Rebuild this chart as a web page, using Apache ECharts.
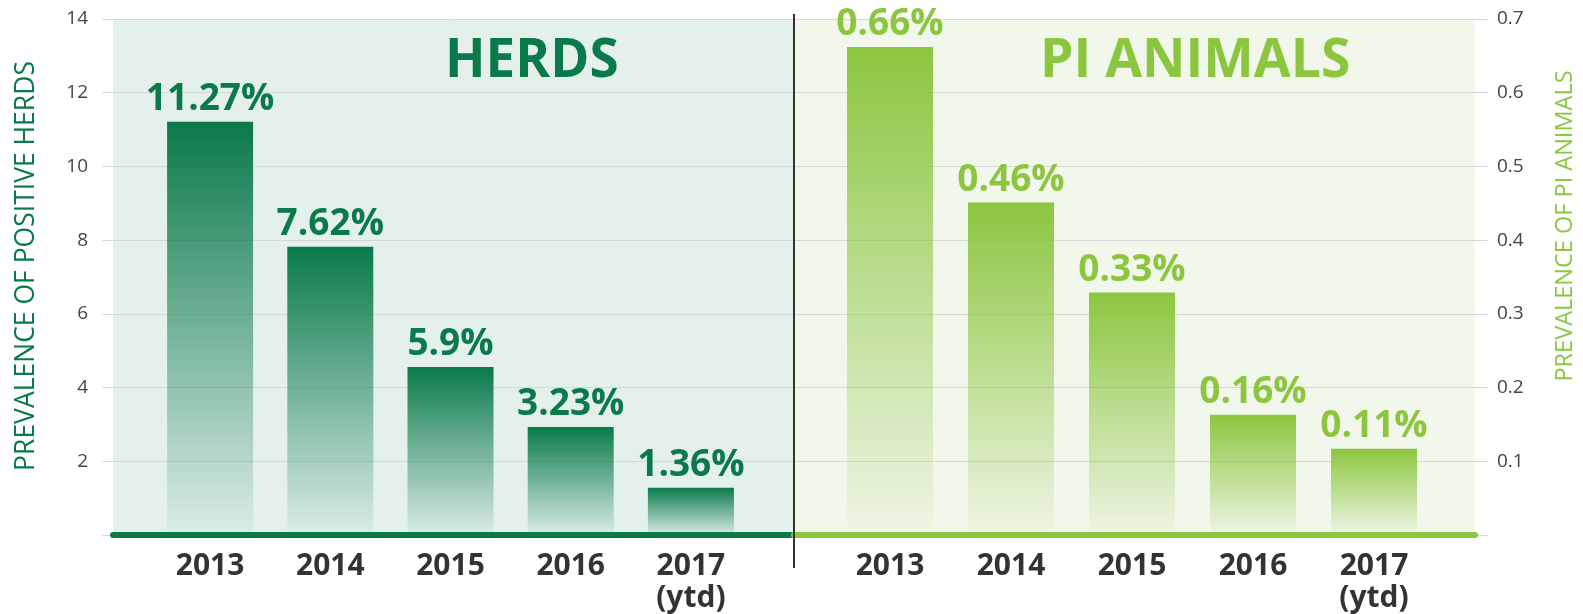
<!DOCTYPE html>
<html lang="en">
<head>
<meta charset="UTF-8">
<title>herds / PI animals</title>
<script src="https://cdn.jsdelivr.net/npm/echarts@6/dist/echarts.min.js"></script>
<style>
html, body { margin: 0; padding: 0; background: #fff; }
#chart { width: 1583px; height: 614px; }
</style>
</head>
<body>
<div id="chart"></div>
<script>
// categories
var years = ['2013', '2014', '2015', '2016', '2017\n(ytd)'];
// bar heights as drawn, and the printed labels
var herdValues = [11.21, 7.82, 4.56, 2.93, 1.28];
var herdLabels = ['11.27%', '7.62%', '5.9%', '3.23%', '1.36%'];
var piValues = [0.662, 0.451, 0.329, 0.163, 0.117];
var piLabels = ['0.66%', '0.46%', '0.33%', '0.16%', '0.11%'];

var dark = '#0a7a4a';
var light = '#8cc63f';
var font = '"Open Sans", "Noto Sans", sans-serif';

function fade(r, g, b) {
    return new echarts.graphic.LinearGradient(0, 0, 0, 1, [
        { offset: 0, color: 'rgba(' + r + ',' + g + ',' + b + ',1)' },
        { offset: 1, color: 'rgba(' + r + ',' + g + ',' + b + ',0.03)' }
    ]);
}

function barSeries(name, xi, yi, values, labels, color, grad) {
    return {
        name: name,
        type: 'bar',
        xAxisIndex: xi,
        yAxisIndex: yi,
        barWidth: 86,
        data: values,
        itemStyle: { color: grad },
        label: {
            show: true,
            position: 'top',
            distance: 4,
            color: color,
            fontFamily: font,
            fontWeight: 'bold',
            fontSize: 37,
            formatter: function (p) { return labels[p.dataIndex]; }
        },
        z: 3
    };
}

var yearLabel = {
    color: '#333',
    fontFamily: font,
    fontWeight: 'bold',
    fontSize: 30,
    lineHeight: 32,
    margin: 15
};

var option = {
    animation: false,
    backgroundColor: '#fff',
    grid: [
        // frame with both value axes and the grid lines
        { left: 102, right: 95, top: 19, bottom: 79, outerBoundsMode: 'none' },
        // panel backgrounds
        { left: 113, width: 681, top: 19, bottom: 79, show: true, backgroundColor: '#e3f0ec', borderWidth: 0, z: -1, outerBoundsMode: 'none' },
        { left: 794, width: 681, top: 19, bottom: 79, show: true, backgroundColor: '#f1f7ea', borderWidth: 0, z: -1, outerBoundsMode: 'none' },
        // bar areas
        { left: 150, width: 601, top: 19, bottom: 79, outerBoundsMode: 'none' },
        { left: 829.5, width: 605, top: 19, bottom: 79, outerBoundsMode: 'none' }
    ],
    xAxis: [
        { gridIndex: 0, type: 'value', show: false },
        { gridIndex: 1, type: 'category', data: [''], axisLine: { lineStyle: { color: dark, width: 6 } }, axisTick: { show: false }, axisLabel: { show: false } },
        { gridIndex: 2, type: 'category', data: [''], axisLine: { lineStyle: { color: light, width: 6 } }, axisTick: { show: false }, axisLabel: { show: false } },
        { gridIndex: 3, type: 'category', data: years, axisLine: { show: false }, axisTick: { show: false }, axisLabel: yearLabel },
        { gridIndex: 4, type: 'category', data: years, axisLine: { show: false }, axisTick: { show: false }, axisLabel: yearLabel }
    ],
    yAxis: [
        {
            gridIndex: 0, type: 'value', position: 'left', min: 0, max: 14, interval: 2,
            axisLine: { show: false }, axisTick: { show: false },
            splitLine: { lineStyle: { color: '#d3d9d6', width: 1 } },
            axisLabel: {
                margin: 14, color: '#444', fontFamily: font, fontSize: 19,
                formatter: function (v) { return v === 0 ? '' : v; }
            }
        },
        {
            gridIndex: 0, type: 'value', position: 'right', min: 0, max: 0.7, interval: 0.1,
            axisLine: { show: false }, axisTick: { show: false }, splitLine: { show: false },
            axisLabel: {
                margin: 9, color: '#444', fontFamily: font, fontSize: 19,
                formatter: function (v) { return v === 0 ? '' : v.toFixed(1); }
            }
        },
        { gridIndex: 1, type: 'value', min: 0, max: 1, show: false },
        { gridIndex: 2, type: 'value', min: 0, max: 1, show: false },
        { gridIndex: 3, type: 'value', min: 0, max: 14, show: false },
        { gridIndex: 4, type: 'value', min: 0, max: 0.7, show: false }
    ],
    series: [
        barSeries('Herds', 3, 4, herdValues, herdLabels, dark, fade(10, 122, 74)),
        barSeries('PI animals', 4, 5, piValues, piLabels, light, fade(140, 198, 63))
    ],
    graphic: [
        {
            type: 'text', left: 445, top: 35, z: 10,
            style: { text: 'HERDS', fill: dark, font: 'bold 53px ' + font }
        },
        {
            type: 'text', left: 1040, top: 35, z: 10,
            style: { text: 'PI ANIMALS', fill: light, font: 'bold 53.5px ' + font }
        },
        {
            type: 'text', x: 26, y: 266, rotation: Math.PI / 2, z: 10,
            style: { text: 'PREVALENCE OF POSITIVE HERDS', fill: dark, font: '26.5px ' + font, align: 'center', verticalAlign: 'middle' }
        },
        {
            type: 'text', x: 1565, y: 226, rotation: Math.PI / 2, z: 10,
            style: { text: 'PREVALENCE OF PI ANIMALS', fill: light, font: '23.5px ' + font, align: 'center', verticalAlign: 'middle' }
        },
        {
            type: 'line', z: 10,
            shape: { x1: 794, y1: 14, x2: 794, y2: 568 },
            style: { stroke: '#333', lineWidth: 2 }
        }
    ]
};

var chart = echarts.init(document.getElementById('chart'));
chart.setOption(option);
</script>
</body>
</html>
